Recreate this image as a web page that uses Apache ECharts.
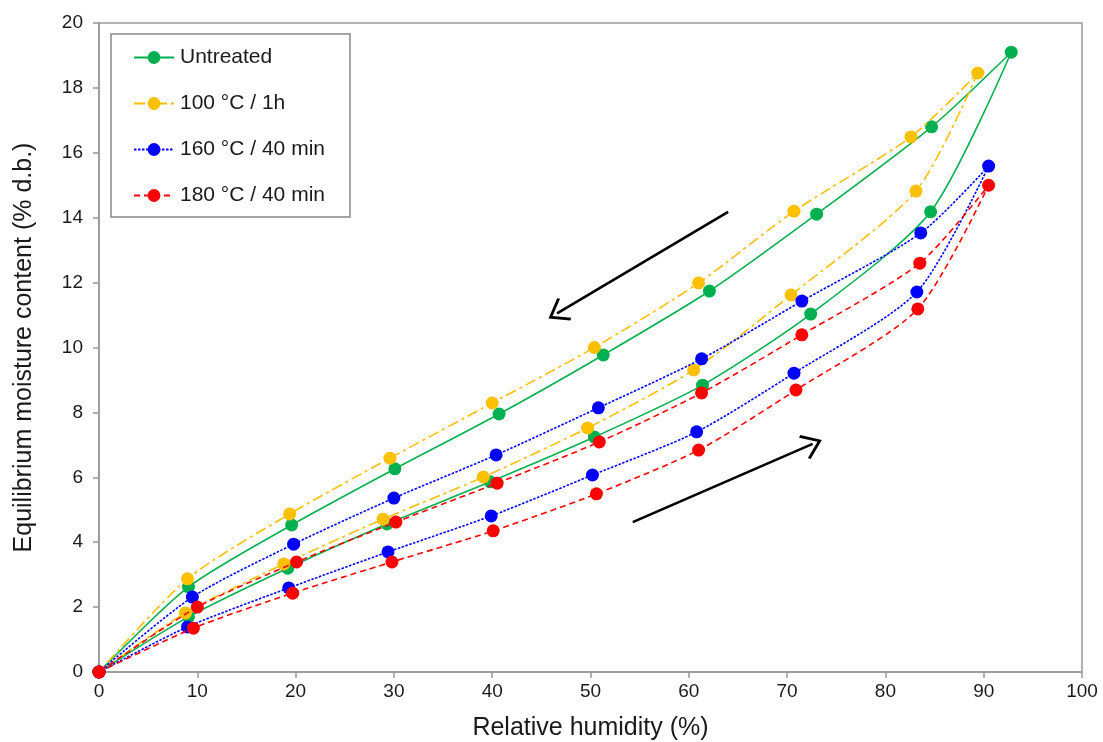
<!DOCTYPE html>
<html>
<head>
<meta charset="utf-8">
<script src="https://cdn.jsdelivr.net/npm/echarts@6/dist/echarts.min.js"></script>
<style>
html,body{margin:0;padding:0;background:#fff;}
#chart{width:1103px;height:742px;}
</style>
</head>
<body>
<div id="chart"></div>
<script>
// Series names
const seriesNames = ['Untreated', '100 \u00B0C / 1h', '160 \u00B0C / 40 min', '180 \u00B0C / 40 min'];

// Untreated: adsorption then desorption (loop order)
const untreatedX = [0, 9.1, 19.2, 29.3, 39.8, 50.4, 61.4, 72.4, 84.6, 92.8, 84.7, 73.0, 62.1, 51.3, 40.7, 30.1, 19.6, 9.1, 0];
const untreatedY = [0, 1.70, 3.20, 4.56, 5.86, 7.24, 8.84, 11.03, 14.18, 19.10, 16.80, 14.11, 11.74, 9.77, 7.95, 6.26, 4.53, 2.62, 0];

// 100 °C / 1h
const t100X = [0, 8.8, 18.8, 28.9, 39.1, 49.7, 60.5, 70.4, 83.1, 89.4, 82.6, 70.7, 61.0, 50.4, 40.0, 29.6, 19.4, 9.0, 0];
const t100Y = [0, 1.82, 3.33, 4.71, 6.01, 7.52, 9.31, 11.62, 14.82, 18.46, 16.49, 14.20, 11.99, 10.00, 8.29, 6.59, 4.87, 2.87, 0];

// 160 °C / 40 min
const t160X = [0, 9.0, 19.3, 29.4, 39.9, 50.2, 60.8, 70.7, 83.2, 90.5, 83.6, 71.5, 61.3, 50.8, 40.4, 30.0, 19.8, 9.5, 0];
const t160Y = [0, 1.39, 2.59, 3.70, 4.81, 6.07, 7.40, 9.21, 11.71, 15.59, 13.53, 11.43, 9.65, 8.14, 6.69, 5.36, 3.94, 2.31, 0];

// 180 °C / 40 min
const t180X = [0, 9.6, 19.7, 29.8, 40.1, 50.6, 61.0, 70.9, 83.3, 90.5, 83.5, 71.5, 61.3, 50.9, 40.5, 30.2, 20.1, 10.0, 0];
const t180Y = [0, 1.35, 2.43, 3.39, 4.35, 5.49, 6.84, 8.69, 11.19, 15.00, 12.60, 10.39, 8.60, 7.09, 5.82, 4.62, 3.39, 2.00, 0];

// Annotation arrows (data coordinates): desorption and adsorption directions
const arrowDesorption = [[64.0, 14.18], [46.6, 11.05]];
const arrowAdsorption = [[54.3, 4.62], [72.6, 7.03]];

const xTicks = {min: 0, max: 100, interval: 10};
const yTicks = {min: 0, max: 20, interval: 2};

function pairs(xs, ys) { return xs.map((x, i) => [x, ys[i]]); }

const colors = ['#00B050', '#FFC000', '#0000FF', '#FF0000'];
const dashes = ['solid', [11, 4, 3, 4], [2.5, 1.5], [6, 4]];
const dataSets = [pairs(untreatedX, untreatedY), pairs(t100X, t100Y), pairs(t160X, t160Y), pairs(t180X, t180Y)];

const font = '"Liberation Sans", Arial, sans-serif';

const series = seriesNames.map((name, i) => ({
  name: name,
  type: 'line',
  data: dataSets[i],
  smooth: 0.25,
  symbol: 'circle',
  symbolSize: 13,
  showSymbol: true,
  z: 2 + i,
  itemStyle: {color: colors[i], borderWidth: 0},
  lineStyle: {color: colors[i], width: 1.6, type: dashes[i]},
  emphasis: {disabled: true}
}));

const arrowPath = 'path://M0,0 L12,15 L10.2,16.8 L0,4 L-10.2,16.8 L-12,15 Z';
series.push({
  name: 'arrows',
  type: 'line',
  data: [],
  silent: true,
  markLine: {
    silent: true,
    animation: false,
    symbol: ['none', arrowPath],
    symbolSize: [26, 20],
    label: {show: false},
    lineStyle: {color: '#000', width: 2.6, type: 'solid'},
    emphasis: {disabled: true},
    data: [
      [{coord: arrowDesorption[0]}, {coord: arrowDesorption[1]}],
      [{coord: arrowAdsorption[0]}, {coord: arrowAdsorption[1]}]
    ]
  }
});

const chart = echarts.init(document.getElementById('chart'), null, {renderer: 'canvas'});
chart.setOption({
  animation: false,
  backgroundColor: '#fff',
  grid: {left: 99, right: 21, top: 23, bottom: 70, outerBoundsMode: 'none', containLabel: false, show: true, borderColor: '#999', borderWidth: 1.5, backgroundColor: 'transparent'},
  legend: {
    data: seriesNames,
    orient: 'vertical',
    left: 111, top: 34,
    padding: [13, 25, 11, 22],
    itemGap: 25,
    itemWidth: 40,
    itemHeight: 16,
    borderColor: '#888',
    borderWidth: 1.5,
    textStyle: {fontFamily: font, fontSize: 21, color: '#1a1a1a', padding: [0, 0, 0, 1]},
    selectedMode: false
  },
  xAxis: {
    type: 'value',
    min: xTicks.min, max: xTicks.max, interval: xTicks.interval,
    name: 'Relative humidity (%)',
    nameLocation: 'middle',
    nameGap: 44,
    nameTextStyle: {fontFamily: font, fontSize: 25, color: '#1a1a1a'},
    axisLine: {show: true, lineStyle: {color: '#999', width: 1.5}},
    axisTick: {show: true, inside: false, length: 6, lineStyle: {color: '#999', width: 1.5}},
    axisLabel: {fontFamily: font, fontSize: 19, color: '#1a1a1a', margin: 10},
    splitLine: {show: false}
  },
  yAxis: {
    type: 'value',
    min: yTicks.min, max: yTicks.max, interval: yTicks.interval,
    name: 'Equilibrium moisture content (% d.b.)',
    nameLocation: 'middle',
    nameGap: 62,
    nameTextStyle: {fontFamily: font, fontSize: 25, color: '#1a1a1a'},
    axisLine: {show: true, lineStyle: {color: '#999', width: 1.5}},
    axisTick: {show: true, inside: false, length: 6, lineStyle: {color: '#999', width: 1.5}},
    axisLabel: {fontFamily: font, fontSize: 19, color: '#1a1a1a', margin: 16},
    splitLine: {show: false}
  },
  series: series
});
</script>
</body>
</html>
